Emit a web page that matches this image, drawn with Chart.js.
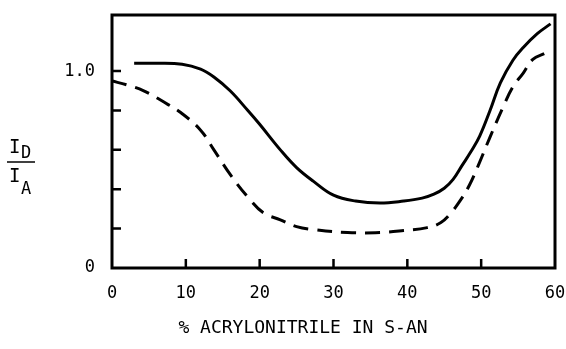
<!DOCTYPE html>
<html>
<head>
<meta charset="utf-8">
<script src="https://cdn.jsdelivr.net/npm/chart.js@4"></script>
<style>
  html, body { margin: 0; padding: 0; background: #fff; }
  #wrap { width: 566px; height: 349px; }
</style>
</head>
<body>
<div id="wrap"><canvas id="grafica" width="566" height="349"></canvas></div>
<script>
// datos
const xSolid = [3, 6, 9.5, 12, 13.8, 16, 18.4, 20, 22.8, 25, 27.3, 30, 33, 36.3, 39.5, 42, 43.6, 45, 46.2, 47.4, 48.6, 49.8, 51.2, 52.6, 54.3, 55.7, 57.6, 59.4];
const ySolid = [1.04, 1.04, 1.035, 1.01, 0.97, 0.90, 0.80, 0.73, 0.60, 0.51, 0.44, 0.37, 0.34, 0.33, 0.34, 0.355, 0.375, 0.405, 0.45, 0.52, 0.59, 0.67, 0.80, 0.94, 1.055, 1.12, 1.19, 1.24];

const xDashed = [0, 2, 4.3, 7.6, 9.3, 12, 13.8, 16.1, 18.4, 20.5, 22.8, 25, 27.3, 31.9, 36.3, 39.5, 42.7, 44.5, 45.8, 47.2, 48.4, 49.6, 51.2, 53, 54.3, 55.7, 57, 58.6];
const yDashed = [0.95, 0.93, 0.90, 0.83, 0.79, 0.70, 0.60, 0.47, 0.36, 0.28, 0.245, 0.21, 0.195, 0.18, 0.18, 0.19, 0.205, 0.23, 0.275, 0.345, 0.42, 0.52, 0.665, 0.82, 0.92, 0.99, 1.06, 1.09];

const xTicks = [0, 10, 20, 30, 40, 50, 60];
const yTicks = [0, 0.2, 0.4, 0.6, 0.8, 1.0];
const xTitulo = '% ACRYLONITRILE IN S-AN';

const fuente = '"DejaVu Sans Mono", monospace';

function puntos(xs, ys) {
    return xs.map((x, i) => ({ x: x, y: ys[i] }));
}

// marco, marcas interiores y etiqueta del eje y
const marco = {
    id: 'marco',
    afterDraw(chart) {
        const ctx = chart.ctx;
        const a = chart.chartArea;
        const sx = chart.scales.x;
        const sy = chart.scales.y;
        ctx.save();
        ctx.strokeStyle = '#000';
        ctx.lineWidth = 3;
        ctx.strokeRect(a.left, a.top, a.right - a.left, a.bottom - a.top);

        ctx.lineWidth = 2.5;
        ctx.beginPath();
        xTicks.slice(1, -1).forEach(v => {
            const px = sx.getPixelForValue(v);
            ctx.moveTo(px, a.bottom);
            ctx.lineTo(px, a.bottom - 9);
        });
        yTicks.slice(1).forEach(v => {
            const py = sy.getPixelForValue(v);
            ctx.moveTo(a.left, py);
            ctx.lineTo(a.left + 9, py);
        });
        ctx.stroke();

        // I_D / I_A
        ctx.fillStyle = '#000';
        ctx.textBaseline = 'alphabetic';
        ctx.textAlign = 'left';
        ctx.font = '19px ' + fuente;
        ctx.fillText('I', 9, 153);
        ctx.fillText('I', 9, 182);
        ctx.font = '17px ' + fuente;
        ctx.fillText('D', 21, 158);
        ctx.fillText('A', 21, 194);
        ctx.lineWidth = 1.5;
        ctx.beginPath();
        ctx.moveTo(7, 162);
        ctx.lineTo(35, 162);
        ctx.stroke();

        // titulo del eje x
        ctx.font = '18px ' + fuente;
        ctx.textAlign = 'center';
        ctx.textBaseline = 'middle';
        ctx.fillText(xTitulo, 303, 328);
        ctx.restore();
    }
};

new Chart(document.querySelector('#grafica'), {
    type: 'line',
    data: {
        datasets: [
            {
                data: puntos(xSolid, ySolid),
                borderColor: '#000',
                borderWidth: 3,
                pointRadius: 0,
                tension: 0.4,
                fill: false
            }, {
                data: puntos(xDashed, yDashed),
                borderColor: '#000',
                borderWidth: 3,
                borderDash: [15, 9],
                pointRadius: 0,
                tension: 0.4,
                fill: false
            }
        ]
    },
    options: {
        responsive: false,
        animation: false,
        layout: { padding: { top: 15, right: 11, left: 0, bottom: 0 } },
        plugins: {
            legend: { display: false },
            tooltip: { enabled: false }
        },
        scales: {
            x: {
                type: 'linear',
                min: 0,
                max: 60,
                afterBuildTicks: s => { s.ticks = xTicks.map(v => ({ value: v })); },
                afterFit: s => { s.height = 81; s.paddingLeft = 0; s.paddingRight = 0; },
                grid: { display: false },
                border: { display: false },
                ticks: {
                    color: '#000',
                    padding: 7,
                    maxRotation: 0,
                    font: { family: fuente, size: 17 }
                }
            },
            y: {
                min: 0,
                max: 1.285,
                afterBuildTicks: s => { s.ticks = yTicks.map(v => ({ value: v })); },
                afterFit: s => { s.width = 112; s.paddingTop = 0; s.paddingBottom = 0; },
                grid: { display: false },
                border: { display: false },
                ticks: {
                    color: '#000',
                    padding: 9,
                    font: { family: fuente, size: 17 },
                    callback: v => v === 0 ? '0' : (Math.abs(v - 1) < 1e-9 ? '1.0' : '')
                }
            }
        }
    },
    plugins: [marco]
});
</script>
</body>
</html>
